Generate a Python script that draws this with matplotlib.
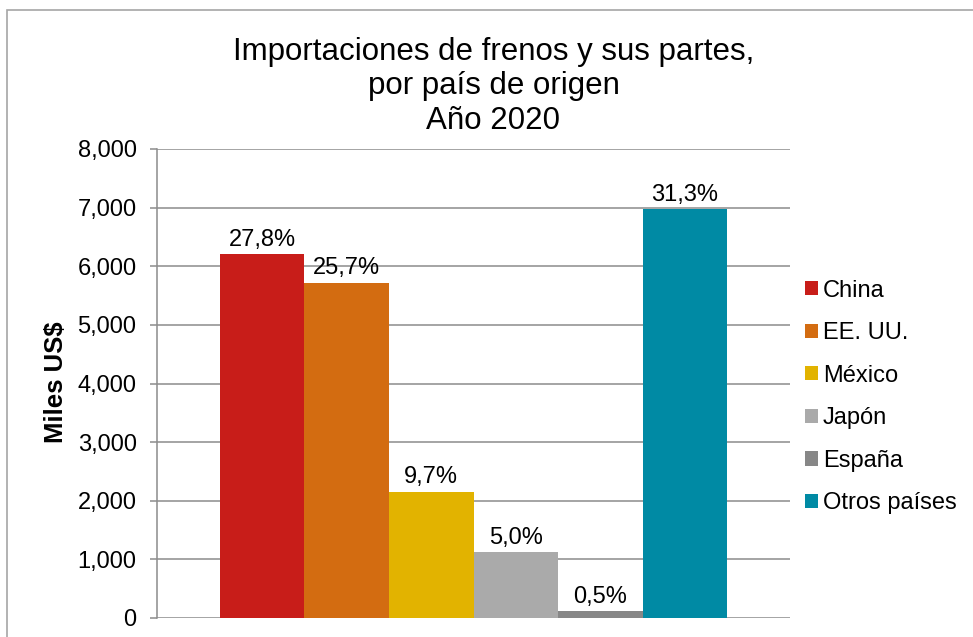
import matplotlib.pyplot as plt
from matplotlib.patches import Patch, Rectangle

plt.rcParams['font.family'] = ['Liberation Sans', 'DejaVu Sans']

paises = ['China', 'EE. UU.', 'México', 'Japón', 'España', 'Otros países']
valores = [6205, 5720, 2155, 1125, 120, 6980]
porcentajes = ['27,8%', '25,7%', '9,7%', '5,0%', '0,5%', '31,3%']
colores = ['#C81D19', '#D36C11', '#E2B300', '#AAAAAA', '#878787', '#008AA4']
yticks = [0, 1000, 2000, 3000, 4000, 5000, 6000, 7000, 8000]

fig = plt.figure(figsize=(9.73, 6.37), dpi=100)
# marco gris del grafico (recortado a la derecha y abajo)
fig.patches.append(Rectangle((7 / 973, -0.1), 1.2, 1 - 10 / 637 + 0.1,
                             transform=fig.transFigure, fill=False,
                             edgecolor='#A6A6A6', linewidth=1.2))

ax = fig.add_axes([157 / 973, 1 - 618 / 637, 633 / 973, 469 / 637])

# barras agrupadas en una sola categoria
n = len(valores)
for i, (v, c, p) in enumerate(zip(valores, colores, porcentajes)):
    x = i - (n - 1) / 2
    ax.bar(x, v, width=1.0, color=c, label=paises[i], zorder=3)
    ax.text(x, v + 55, p, ha='center', va='bottom', fontsize=17, zorder=4)

ax.set_xlim(-3.745, 3.745)
ax.set_ylim(0, 8000)
ax.set_yticks(yticks)
ax.set_yticklabels([f'{t:,}' for t in yticks], fontsize=17)
ax.set_xticks([])
ax.grid(axis='y', color='#8C8C8C', linewidth=1.1, zorder=0)
for s in ['top', 'right', 'bottom']:
    ax.spines[s].set_visible(False)
ax.spines['left'].set_color('#8C8C8C')
ax.spines['left'].set_linewidth(1.1)
ax.tick_params(axis='y', length=4.7, width=1.1, color='#8C8C8C', pad=10)
ax.set_ylabel('Miles US$', fontsize=18.5, fontweight='bold')
ax.yaxis.set_label_coords(-0.1406, 0.503)

# titulo de tres lineas, la ultima con la base en y=129 px
fig.text(493.5 / 973, 1 - 129 / 637,
         'Importaciones de frenos y sus partes,\npor país de origen\nAño 2020',
         ha='center', va='baseline', fontsize=22.5, linespacing=1.2)

handles = [Patch(facecolor=c) for c in colores]
fig.legend(handles, paises, loc='center left', bbox_to_anchor=(795.6 / 973, 1 - 397 / 637),
           frameon=False, fontsize=17, handlelength=0.55, handleheight=0.55,
           handletextpad=0.21, labelspacing=0.87, borderaxespad=0)

plt.savefig('out.png', dpi=100)
